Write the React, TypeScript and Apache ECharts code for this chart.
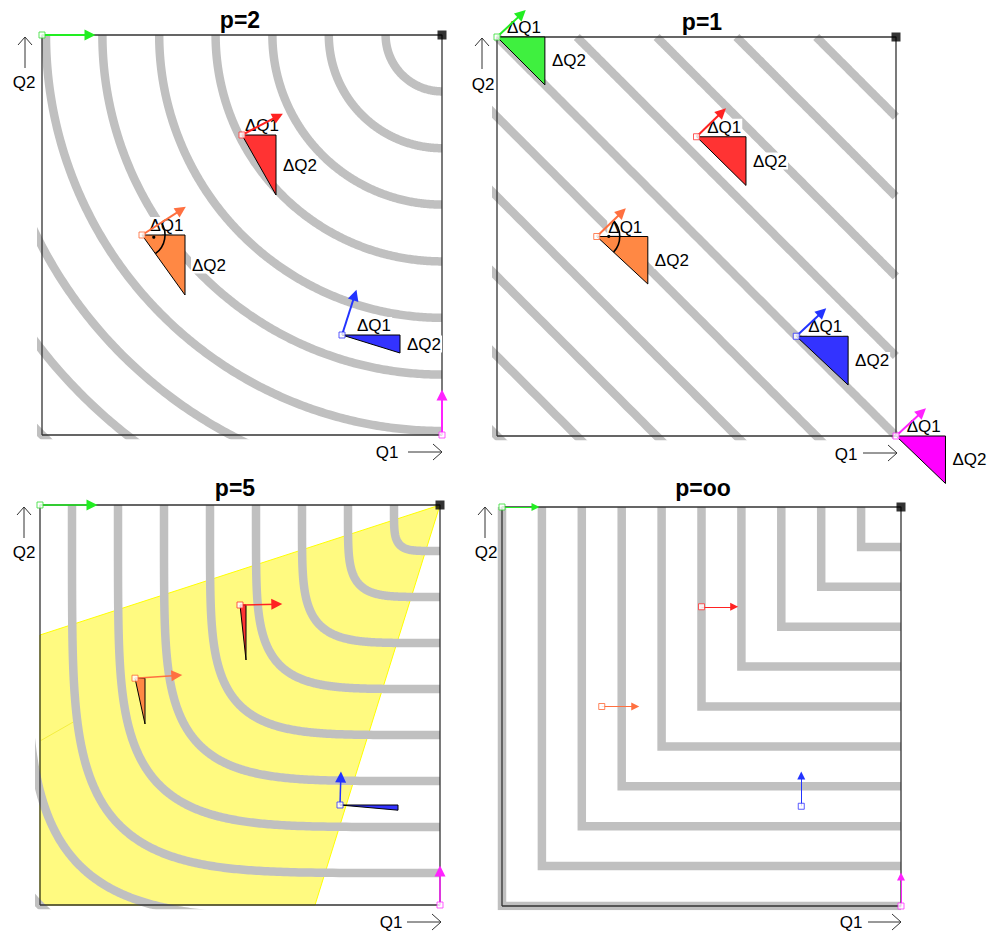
import React, { useEffect, useRef } from "react";
import * as echarts from "echarts";

// ---------- data ----------
const TITLES = ["p=2", "p=1", "p=5", "p=oo"];
const NORM_P = [2, 1, 5, Infinity];

// contour levels: p-norm distance from the corner (Q1=1, Q2=1)
const LEVELS_P2 = [0.141, 0.283, 0.424, 0.566, 0.707, 0.849, 0.99, 1.131, 1.273, 1.414];
const LEVELS_P1 = [0.2, 0.4, 0.6, 0.8, 1.0, 1.2, 1.4, 1.6, 1.8, 2.0];
const LEVELS_P5 = [0.115, 0.23, 0.345, 0.46, 0.575, 0.69, 0.805, 0.92, 1.035, 1.149];
const LEVELS_PINF = [0.1, 0.2, 0.3, 0.4, 0.5, 0.6, 0.7, 0.8, 0.9, 1.0];
const LEVELS = [LEVELS_P2, LEVELS_P1, LEVELS_P5, LEVELS_PINF];

// marker order: green, red, orange, blue, magenta
const SQUARE_COLORS = ["#33dd33", "#ff3333", "#ff6633", "#3333ff", "#ff33ff"];
const ARROW_COLORS = ["#22ee22", "#ff2222", "#ff7040", "#2233ff", "#ff22ff"];
const TRI_FILLS = ["#3ff03f", "#ff3333", "#ff8844", "#3333ff", "#ff00ff"];

const POINTS_P2 = [[0, 1], [0.5, 0.75], [0.25, 0.5], [0.75, 0.25], [1, 0]];
const POINTS_P1 = [[0, 1], [0.5, 0.75], [0.25, 0.5], [0.75, 0.25], [1, 0]];
const POINTS_P5 = [[0, 1], [0.5, 0.75], [0.2375, 0.567], [0.75, 0.25], [1, 0]];
const POINTS_PINF = [[0, 1], [0.5, 0.75], [0.25, 0.5], [0.75, 0.25], [1, 0]];
const POINTS = [POINTS_P2, POINTS_P1, POINTS_P5, POINTS_PINF];

const ARROWS_P2 = [[0.12, 1], [0.59, 0.797], [0.348, 0.563], [0.782, 0.35], [1, 0.1]];
const ARROWS_P1 = [[0.062, 1.058], [0.564, 0.812], [0.313, 0.561], [0.815, 0.311], [1.065, 0.06]];
const ARROWS_P5 = [[0.13, 1], [0.592, 0.752], [0.342, 0.574], [0.752, 0.32], [1, 0.085]];
const ARROWS_PINF = [[0.084, 1], [0.582, 0.75], [0.334, 0.5], [0.75, 0.327], [1, 0.074]];
const ARROWS = [ARROWS_P2, ARROWS_P1, ARROWS_P5, ARROWS_PINF];

// triangles: [Q1 of the right vertex, Q2 of the bottom vertex]; null = none
const TRI_P2 = [null, [0.585, 0.6], [0.3575, 0.35], [0.895, 0.205], null];
const TRI_P1 = [[0.12, 0.88], [0.624, 0.628], [0.378, 0.381], [0.88, 0.128], [1.124, -0.119]];
const TRI_P5 = [null, [0.515, 0.6125], [0.2625, 0.4525], [0.895, 0.237], null];
const TRI_PINF = [null, null, null, null, null];
const TRIANGLES = [TRI_P2, TRI_P1, TRI_P5, TRI_PINF];
const TRI_LABELS = [true, true, false, false];
const RIGHT_ANGLE = [true, true, false, false];

// yellow region in the p=5 panel
const YELLOW_REGION = [[1, 1], [0, 0.675], [0, 0], [0.6875, 0]];
const YELLOW_EXTRA_LINE = [[0, 0.41], [0.0825, 0.457]];

// ---------- layout ----------
const GRIDS = [
  { left: 42, top: 35, width: 400, height: 400 },
  { left: 497, top: 37, width: 399, height: 399 },
  { left: 40, top: 505, width: 400, height: 400 },
  { left: 502, top: 507, width: 399, height: 399 },
];
const DECOR = [
  { title: [240, 20], up: [25, 37, 68], q2: [24, 82], q1: [387, 452], right: [408, 442, 452] },
  { title: [702, 22], up: [482, 38, 69], q2: [483, 84], q1: [846, 454], right: [863, 897, 453] },
  { title: [235, 488], up: [24, 507, 538], q2: [24, 552], q1: [391, 922], right: [407, 441, 922] },
  { title: [703, 488], up: [485, 507, 538], q2: [486, 552], q1: [851, 922], right: [868, 901, 922] },
];
const ARROW_W = [2, 2, 1.5, 1];
const HEAD = [11, 11, 11, 8];
const FONT = '"Liberation Sans", Arial, sans-serif';

function contour(p: number, c: number): number[][] {
  if (!isFinite(p)) return [[1 - c, 1], [1 - c, 1 - c], [1, 1 - c]];
  const pts: number[][] = [];
  const N = 240;
  for (let k = 0; k <= N; k++) {
    const t = (Math.PI / 2) * (k / N);
    const u = c * Math.pow(Math.cos(t), 2 / p);
    const v = c * Math.pow(Math.sin(t), 2 / p);
    pts.push([1 - u, 1 - v]);
  }
  return pts;
}

function buildOption() {
  const series: any[] = [];
  const graphic: any[] = [];

  GRIDS.forEach((_, i) => {
    const ax = { xAxisIndex: i, yAxisIndex: i };
    // yellow region (p=5)
    if (i === 2) {
      series.push({
        type: "custom", ...ax, z: 1, silent: true, clip: false,
        data: [0],
        renderItem: (params: any, api: any) => ({
          type: "group",
          children: [
            {
              type: "polygon",
              shape: { points: YELLOW_REGION.map((q) => api.coord(q)) },
              style: { fill: "#fffa80", stroke: "#ffff00", lineWidth: 1 },
            },
            {
              type: "polyline",
              shape: { points: YELLOW_EXTRA_LINE.map((q) => api.coord(q)) },
              style: { stroke: "#f4ee40", lineWidth: 1, fill: "none" },
            },
          ],
        }),
      });
    }
    // contours
    LEVELS[i].forEach((c) => {
      series.push({
        type: "line", ...ax, z: 2, silent: true, clip: true,
        symbol: "none", showSymbol: false,
        data: contour(NORM_P[i], c),
        lineStyle: { color: "#c0c0c0", width: 8.5, join: isFinite(NORM_P[i]) ? "round" : "miter", cap: "butt" },
      });
    });
    // frame
    series.push({
      type: "line", ...ax, z: 3, silent: true, clip: false, symbol: "none", showSymbol: false,
      data: [[0, 0], [1, 0], [1, 1], [0, 1], [0, 0]],
      lineStyle: { color: "#333", width: 1.3 },
    });
    // arrows
    POINTS[i].forEach((pt, k) => {
      series.push({
        type: "lines", coordinateSystem: "cartesian2d", ...ax, z: 8, silent: true, clip: false,
        symbol: ["none", "triangle"], symbolSize: HEAD[i],
        lineStyle: { color: ARROW_COLORS[k], width: ARROW_W[i], opacity: 1, curveness: 0 },
        data: [{ coords: [pt, ARROWS[i][k]] }],
      });
    });
    // triangles + labels
    const triData: number[][] = [];
    TRIANGLES[i].forEach((t, k) => {
      if (t) triData.push([POINTS[i][k][0], POINTS[i][k][1], t[0], t[1], k]);
    });
    if (triData.length) {
      const showLabels = TRI_LABELS[i];
      series.push({
        type: "custom", ...ax, z: 6, silent: true, clip: false,
        dimensions: ["a", "b", "c", "d", "e"],
        data: triData,
        renderItem: (params: any, api: any) => {
          const p = api.coord([api.value(0), api.value(1)]);
          const r = api.coord([api.value(2), api.value(1)]);
          const b = api.coord([api.value(2), api.value(3)]);
          const ci = api.value(4);
          const children: any[] = [
            {
              type: "polygon",
              shape: { points: [p, r, b] },
              style: { fill: TRI_FILLS[ci], stroke: "#000", lineWidth: 1 },
            },
          ];
          if (showLabels) {
            children.push({
              type: "text", x: (p[0] + r[0]) / 2 + 3, y: p[1] - 1,
              style: {
                text: "ΔQ1", fill: "#000", font: "17px " + FONT,
                align: "center", textAlign: "center", verticalAlign: "bottom", textVerticalAlign: "bottom",
                backgroundColor: "#fff", padding: [0, 1, 0, 1],
              },
            });
            children.push({
              type: "text", x: r[0] + 6, y: (r[1] + b[1]) / 2,
              style: {
                text: "ΔQ2", fill: "#000", font: "17px " + FONT,
                align: "left", textAlign: "left", verticalAlign: "middle", textVerticalAlign: "middle",
                backgroundColor: "#fff", padding: [0, 1, 0, 1],
              },
            });
          }
          return { type: "group", children };
        },
      });
    }
    // right-angle mark on the orange point
    if (RIGHT_ANGLE[i]) {
      const k = 2;
      const t = TRIANGLES[i][k] as number[];
      series.push({
        type: "custom", ...ax, z: 7, silent: true, clip: false,
        dimensions: ["a", "b", "c", "d", "e", "f"],
        data: [[POINTS[i][k][0], POINTS[i][k][1], ARROWS[i][k][0], ARROWS[i][k][1], t[0], t[1]]],
        renderItem: (params: any, api: any) => {
          const p = api.coord([api.value(0), api.value(1)]);
          const a = api.coord([api.value(2), api.value(3)]);
          const b = api.coord([api.value(4), api.value(5)]);
          const a1 = Math.atan2(a[1] - p[1], a[0] - p[0]);
          const a2 = Math.atan2(b[1] - p[1], b[0] - p[0]);
          const mid = (a1 + a2) / 2;
          return {
            type: "group",
            children: [
              {
                type: "arc",
                shape: { cx: p[0], cy: p[1], r: 23, startAngle: a1, endAngle: a2, clockwise: true },
                style: { stroke: "#000", lineWidth: 1.6, fill: "none" },
              },
              {
                type: "circle",
                shape: { cx: p[0] + 12 * Math.cos(mid), cy: p[1] + 12 * Math.sin(mid), r: 1.6 },
                style: { fill: "#000" },
              },
            ],
          };
        },
      });
    }
    // squares
    series.push({
      type: "scatter", ...ax, z: 9, silent: true, clip: false,
      symbol: "rect", symbolSize: 6,
      data: POINTS[i].map((pt, k) => ({
        value: pt,
        itemStyle: { color: "#fff", borderColor: SQUARE_COLORS[k], borderWidth: 1 },
      })),
    });
    series.push({
      type: "scatter", ...ax, z: 9, silent: true, clip: false,
      symbol: "rect", symbolSize: 9,
      data: [[1, 1]],
      itemStyle: { color: "#000" },
    });

    // decorations
    const d = DECOR[i];
    graphic.push({
      type: "text", x: d.title[0], y: d.title[1],
      style: {
        text: TITLES[i], fill: "#000", font: "bold 23px " + FONT,
        align: "center", textAlign: "center", verticalAlign: "middle", textVerticalAlign: "middle",
      },
    });
    graphic.push({
      type: "text", x: d.q2[0], y: d.q2[1],
      style: {
        text: "Q2", fill: "#000", font: "17px " + FONT,
        align: "center", textAlign: "center", verticalAlign: "middle", textVerticalAlign: "middle",
      },
    });
    graphic.push({
      type: "text", x: d.q1[0], y: d.q1[1],
      style: {
        text: "Q1", fill: "#000", font: "17px " + FONT,
        align: "center", textAlign: "center", verticalAlign: "middle", textVerticalAlign: "middle",
      },
    });
    const [ux, uy1, uy2] = d.up;
    graphic.push({ type: "line", shape: { x1: ux, y1: uy1, x2: ux, y2: uy2 }, style: { stroke: "#333", lineWidth: 1 } });
    graphic.push({
      type: "polyline",
      shape: { points: [[ux - 7, uy1 + 8], [ux, uy1], [ux + 7, uy1 + 8]] },
      style: { stroke: "#333", lineWidth: 1, fill: "none" },
    });
    const [rx1, rx2, ry] = d.right;
    graphic.push({ type: "line", shape: { x1: rx1, y1: ry, x2: rx2, y2: ry }, style: { stroke: "#333", lineWidth: 1 } });
    graphic.push({
      type: "polyline",
      shape: { points: [[rx2 - 9, ry - 8], [rx2, ry], [rx2 - 9, ry + 8]] },
      style: { stroke: "#333", lineWidth: 1, fill: "none" },
    });
  });

  return {
    animation: false,
    backgroundColor: "#fff",
    grid: GRIDS.map((g) => ({ ...g, show: false })),
    xAxis: GRIDS.map((_, i) => ({ type: "value", gridIndex: i, min: 0, max: 1, show: false })),
    yAxis: GRIDS.map((_, i) => ({ type: "value", gridIndex: i, min: 0, max: 1, show: false })),
    graphic,
    series,
  };
}

export default function App() {
  const ref = useRef<HTMLDivElement>(null);
  useEffect(() => {
    document.body.style.margin = "0";
    const chart = echarts.init(ref.current as HTMLDivElement, undefined, { renderer: "svg" });
    chart.setOption(buildOption() as any);
    return () => chart.dispose();
  }, []);
  return <div ref={ref} style={{ width: 1003, height: 934 }} />;
}
